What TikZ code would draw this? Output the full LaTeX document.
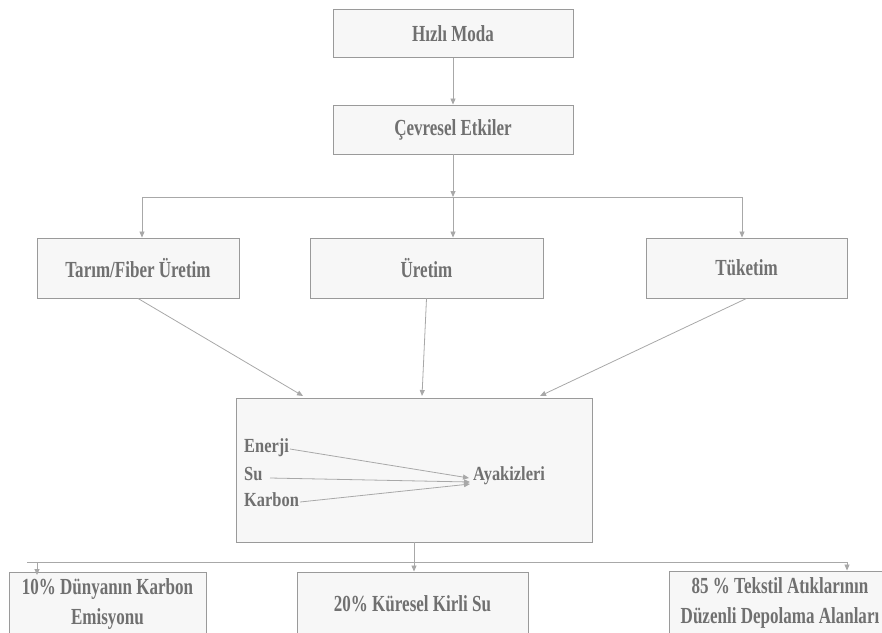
\documentclass[tikz,border=0pt]{standalone}
\usepackage{fontspec}
\setmainfont{Liberation Serif}[FakeStretch=0.82]
\newfontfamily\boxfont{Liberation Serif}[FakeStretch=0.74]
\usetikzlibrary{arrows.meta,calc}
\definecolor{txt}{HTML}{707070}
\definecolor{boxfill}{HTML}{F7F7F7}
\definecolor{boxline}{HTML}{9A9A9A}
\definecolor{conn}{HTML}{A8A8A8}
\tikzset{
  box/.style={draw=boxline, line width=0.9pt, fill=boxfill, text=txt,
    font=\boxfont\fontsize{23}{30}\selectfont\bfseries, inner sep=0pt, align=center},
  lbl/.style={text=txt, font=\fontsize{20}{26}\selectfont\bfseries, inner sep=0pt},
  conn/.style={draw=conn, line width=0.8pt},
  arr/.style={conn, -{Triangle[length=6pt,width=5pt]}},
}
\begin{document}
\begin{tikzpicture}[x=1pt,y=-1pt]
\useasboundingbox (0,0) rectangle (882,632);
\clip (0,0) rectangle (882,632);
% boxes
\node[box, minimum width=240, minimum height=48] (moda) at (453,33.5) {Hızlı Moda};
\node[box, minimum width=240, minimum height=49] (cev) at (453,129.5) {Çevresel Etkiler};
\node[box, minimum width=202, minimum height=60] (tarim) at (138,268) {Tarım/Fiber Üretim};
\node[box, minimum width=233, minimum height=60] (uretim) at (426.5,268) {Üretim};
\node[box, minimum width=201, minimum height=60] (tuketim) at (746.5,268) {Tüketim};
\node[box, minimum width=356, minimum height=144] (big) at (414,470) {};
\node[box, minimum width=197, minimum height=64] (b1) at (107.5,604) {10\% Dünyanın Karbon\\Emisyonu};
\node[box, minimum width=231, minimum height=64] (b2) at (412.5,604) {20\% Küresel Kirli Su};
\node[box, minimum width=222, minimum height=64] (b3) at (780,603) {85 \% Tekstil Atıklarının\\Düzenli Depolama Alanları};
% inner labels
\node[lbl, anchor=base west] (en) at (244,452.5) {Enerji};
\node[lbl, anchor=base west] (su) at (244,480) {Su};
\node[lbl, anchor=base west] (ka) at (244,506) {Karbon};
\node[lbl, anchor=base west] (ay) at (473,480) {Ayakizleri};
% coordinates
\coordinate (split) at (453,197);
\coordinate (hL) at (142,197);
\coordinate (hR) at (742,197);
\coordinate (tL) at (303,396);
\coordinate (tM) at (422,396);
\coordinate (tR) at (540,396);
\coordinate (enS) at (290,449);
\coordinate (suS) at (270,478);
\coordinate (kaS) at (300,502);
\coordinate (enT) at (469,478);
\coordinate (suT) at (470,482);
\coordinate (kaT) at (470,484);
\coordinate (bL) at (27,562);
\coordinate (bR) at (847,562);
\coordinate (a1) at (37,562);
% connectors
\draw[arr] (moda.south) -- (cev.north);
\draw[arr] (cev.south) -- (split);
\draw[conn] (hL) -- (hR);
\draw[arr] (hL) -- (hL |- tarim.north);
\draw[arr] (split) -- (split |- uretim.north);
\draw[arr] (hR) -- (hR |- tuketim.north);
\draw[arr] (tarim.south) -- (tL);
\draw[arr] (uretim.south) -- (tM);
\draw[arr] (tuketim.south) -- (tR);
\draw[arr] (enS) -- (enT);
\draw[arr] (suS) -- (suT);
\draw[arr] (kaS) -- (kaT);
\draw[conn] (bL) -- (bR);
\draw[arr] (big.south) -- (big.south |- b2.north);
\draw[arr] (a1) -- ++(0,13);
\draw[arr] (bR) -- (bR |- b3.north);
\end{tikzpicture}
\end{document}
